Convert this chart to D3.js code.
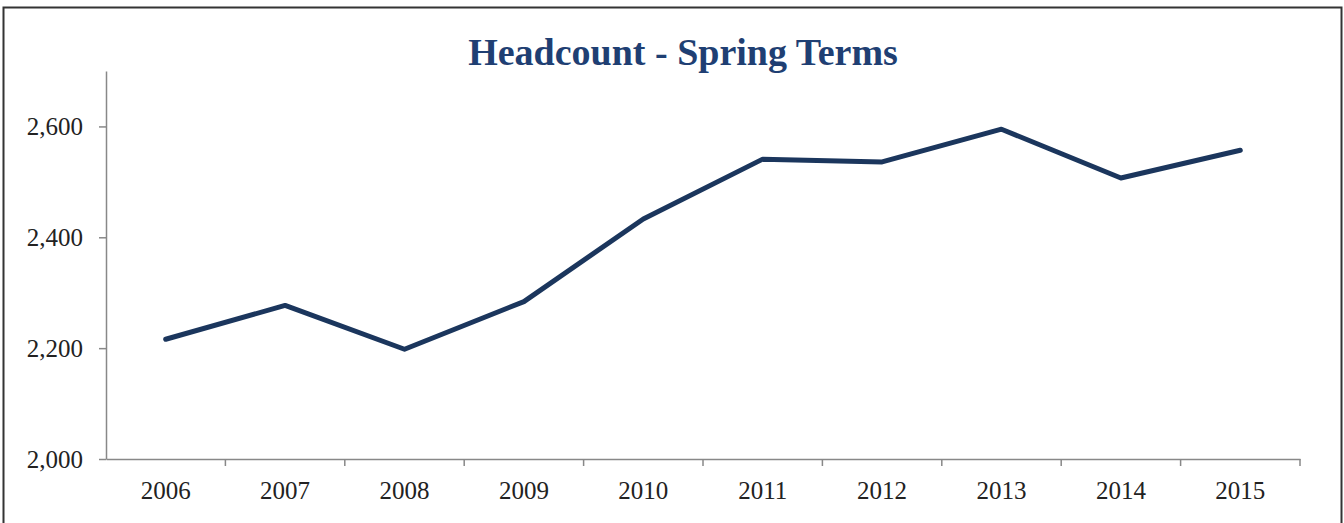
<!DOCTYPE html>
<html>
<head>
<meta charset="utf-8">
<script src="https://cdn.jsdelivr.net/npm/d3@7"></script>
<style>
  body { margin: 0; background: #fff; }
  svg { display: block; }
</style>
</head>
<body>
<svg id="chart"></svg>
<script>
const years = ['2006', '2007', '2008', '2009', '2010', '2011', '2012', '2013', '2014', '2015'];
const headcount = [2216, 2277, 2198, 2284, 2433, 2541, 2536, 2595, 2507, 2557];
const yTicks = [2000, 2200, 2400, 2600];

const width = 1344, height = 523;
const margin = { top: 71, right: 44, bottom: 64, left: 106 };
const innerW = width - margin.left - margin.right;
const innerH = height - margin.top - margin.bottom;

const svg = d3.select('#chart')
  .attr('width', width)
  .attr('height', height);

svg.append('rect')
  .attr('x', 3.5).attr('y', 7.5)
  .attr('width', 1338).attr('height', 530)
  .attr('fill', 'none')
  .attr('stroke', '#333')
  .attr('stroke-width', 2);

svg.append('text')
  .attr('x', 683).attr('y', 65)
  .attr('text-anchor', 'middle')
  .attr('font-family', 'Liberation Serif, serif')
  .attr('font-weight', 'bold')
  .attr('font-size', 38)
  .attr('fill', '#1f3f73')
  .text('Headcount - Spring Terms');

const g = svg.append('g')
  .attr('transform', `translate(${margin.left},${margin.top})`);

const x = d3.scaleBand().domain(years).range([0, innerW]);
const y = d3.scaleLinear().domain([2000, 2700]).range([innerH, 0]);

const fmt = d3.format(',');

const yAxis = g.append('g')
  .call(d3.axisLeft(y).tickValues(yTicks).tickFormat(fmt).tickSize(7).tickSizeOuter(0));
yAxis.select('.domain').attr('stroke', '#888').attr('stroke-width', 1.5);
yAxis.selectAll('.tick line').attr('stroke', '#888').attr('stroke-width', 1.5);
yAxis.selectAll('.tick text')
  .attr('x', -23)
  .attr('font-family', 'Liberation Serif, serif')
  .attr('font-size', 25)
  .attr('fill', '#222');

const xAxis = g.append('g')
  .attr('transform', `translate(0,${innerH})`)
  .call(d3.axisBottom(x).tickSize(0).tickSizeOuter(0));
xAxis.select('.domain').attr('stroke', '#888').attr('stroke-width', 1.5);
xAxis.selectAll('.tick text')
  .attr('y', 22)
  .attr('font-family', 'Liberation Serif, serif')
  .attr('font-size', 25)
  .attr('fill', '#222');

// boundary ticks between categories
g.append('g')
  .selectAll('line')
  .data(years)
  .join('line')
  .attr('x1', d => x(d) + x.bandwidth())
  .attr('x2', d => x(d) + x.bandwidth())
  .attr('y1', innerH)
  .attr('y2', innerH + 7)
  .attr('stroke', '#888')
  .attr('stroke-width', 1.5);

const line = d3.line()
  .x((d, i) => x(years[i]) + x.bandwidth() / 2)
  .y(d => y(d));

g.append('path')
  .datum(headcount)
  .attr('d', line)
  .attr('fill', 'none')
  .attr('stroke', '#1b365d')
  .attr('stroke-width', 5)
  .attr('stroke-linejoin', 'round')
  .attr('stroke-linecap', 'round');
</script>
</body>
</html>
